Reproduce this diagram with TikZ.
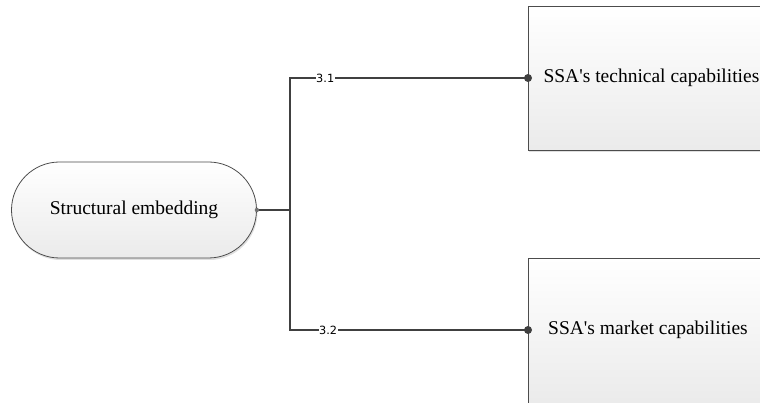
\documentclass[tikz,border=0pt]{standalone}
\usepackage{fontspec}
\setmainfont{Liberation Serif}[Ligatures=TeXOff]
\newfontfamily\lblfont{DejaVu Sans}
\usetikzlibrary{shadows,shapes.misc}
\begin{document}
\begin{tikzpicture}[x=1pt,y=-1pt,
  conn/.style={draw=black!75,line width=1.2pt},
  lbl/.style={font=\lblfont\fontsize{11.3}{13}\selectfont,fill=white,inner sep=0.5pt},
  boxsh/.style={draw=black!70,line width=0.8pt,top color=white,bottom color=black!8,
    drop shadow={opacity=0.25,shadow xshift=1pt,shadow yshift=-2pt}},
  txt/.style={font=\fontsize{19.5}{22}\selectfont,text=black}]
\useasboundingbox (0,0) rectangle (760,403);
\clip (0,0) rectangle (760,403);
\node[boxsh,rounded corners=48pt,minimum width=245pt,minimum height=96pt,inner sep=0pt,txt] (root) at (134,210) {Structural embedding};
\node[boxsh,rectangle,minimum width=242pt,minimum height=144pt,inner sep=0pt,anchor=north west] (b1) at (528,6) {};
\node[boxsh,rectangle,minimum width=242pt,minimum height=146pt,inner sep=0pt,anchor=north west] (b2) at (528,258) {};
\node[txt,anchor=west] (t1) at (540,78) {SSA's technical capabilities};
\node[txt] (t2) at (648,330) {SSA's market capabilities};
\coordinate (j) at (290,210);
\coordinate (p1) at (528,78);
\coordinate (p2) at (528,330);
\draw[conn] (root.east) -- (j);
\draw[conn] (j) |- (p1) node[lbl,pos=0.574] {3.1};
\draw[conn] (j) |- (p2) node[lbl,pos=0.58] {3.2};
\fill[black!75] (p1) circle (4pt);
\fill[black!75] (p2) circle (4pt);
\fill[black!55] (root.east) circle (2.2pt);
\end{tikzpicture}
\end{document}
